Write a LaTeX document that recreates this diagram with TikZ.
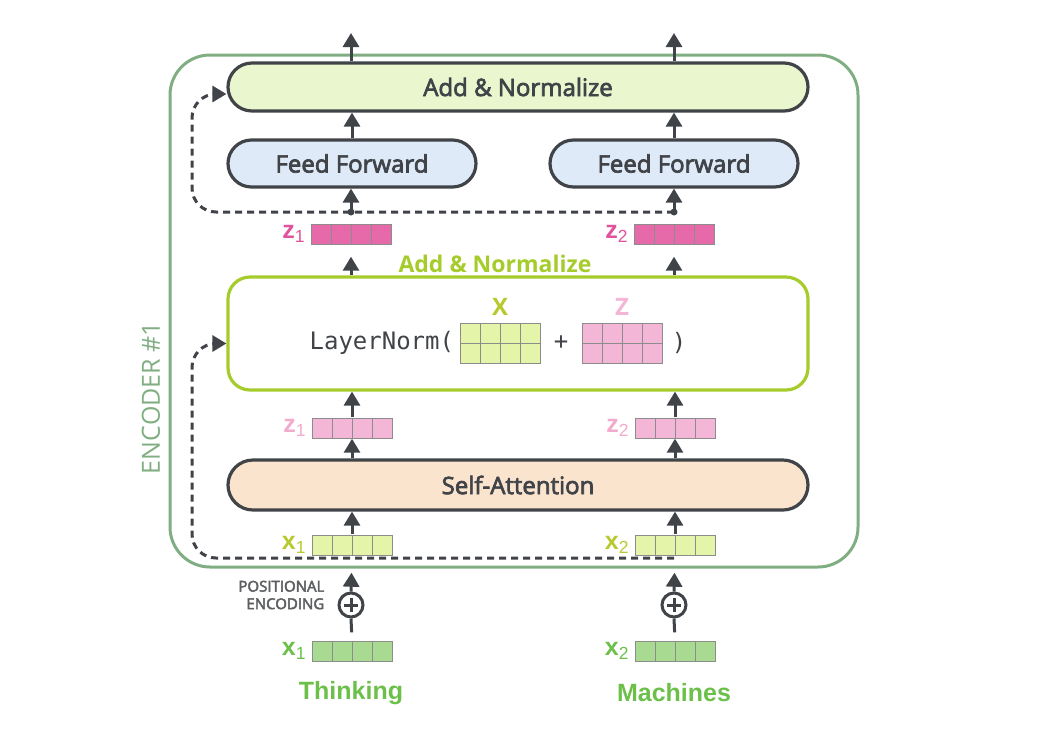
\documentclass[tikz,border=0pt]{standalone}
\usepackage{fontspec}
\setmainfont{Open Sans}
\setmonofont{DejaVu Sans Mono}
\newfontfamily\wordfont{Liberation Sans}
\newfontfamily\medfont{Open Sans}[FakeBold=3]
\usetikzlibrary{matrix, positioning, calc, shapes.misc, arrows.meta}

\definecolor{edgegray}{HTML}{404348}
\definecolor{encgreen}{HTML}{80AE82}
\definecolor{normfill}{HTML}{E9F6CE}
\definecolor{fffill}{HTML}{DEEAF7}
\definecolor{safill}{HTML}{FBE4CE}
\definecolor{lnline}{HTML}{A6CC2C}
\definecolor{cellgray}{HTML}{8C8C8C}
\definecolor{xin}{HTML}{A8DB91}
\definecolor{xinlabel}{HTML}{6CC04A}
\definecolor{xpos}{HTML}{E4F4A9}
\definecolor{xposlabel}{HTML}{B8C92E}
\definecolor{zlight}{HTML}{F3B6D6}
\definecolor{zlightlabel}{HTML}{F2AACD}
\definecolor{zdark}{HTML}{E66AAA}
\definecolor{zdarklabel}{HTML}{E0529B}

\begin{document}
\begin{tikzpicture}[
		x=1pt, y=-1pt,
		% Rounded boxes for the sub-layers
		layer/.style={rounded rectangle, draw=edgegray, line width=3.2pt, minimum height=48pt, inner sep=0pt, text=edgegray, font=\medfont\fontsize{24}{28}\selectfont},
		% Word vectors drawn as small matrices of empty cells
		vecmtx/.style={
			matrix of nodes, nodes in empty cells, inner sep=0pt,
			nodes={draw=cellgray, line width=1pt, minimum size=20pt, inner sep=0pt, anchor=center},
			column sep=-1pt, row sep=-1pt,
			ampersand replacement=\&
		},
		vec label/.style={font=\wordfont\bfseries\fontsize{25}{25}\selectfont, inner sep=0pt},
		% Adder for the positional encoding
		sum/.style={circle, draw=edgegray, line width=3pt, minimum size=24pt, inner sep=0pt,
			path picture={\draw[edgegray, line width=3pt]
				([yshift=7pt]path picture bounding box.center) -- ([yshift=-7pt]path picture bounding box.center)
				([xshift=-7pt]path picture bounding box.center) -- ([xshift=7pt]path picture bounding box.center);}},
		% Connector styles
		flow/.style={-{Triangle[width=16pt, length=14pt]}, line width=3pt, edgegray},
		wire/.style={line width=3pt, edgegray},
		resid/.style={flow, dash pattern=on 7pt off 5pt, rounded corners=24pt},
		mono/.style={font=\ttfamily\fontsize{24}{26}\selectfont, text=edgegray, inner sep=0pt},
		word/.style={text=xinlabel, font=\wordfont\bfseries\fontsize{25}{28}\selectfont},
		mat label/.style={font=\bfseries\fontsize{24}{26}\selectfont, inner sep=0pt}
		]
		\useasboundingbox (0,0) rectangle (1052,740);
		
		% ==============================================================================
		% 1. ENCODER FRAME
		% ==============================================================================
		\node[draw=encgreen, line width=3pt, rounded corners=40pt, minimum width=688pt, minimum height=512pt] (enc) at (514,311) {};
		\node[rotate=90, text=encgreen, font=\fontsize{25}{28}\selectfont] (enclabel) at (151,398) {ENCODER \#1};
		
		% ==============================================================================
		% 2. SUB-LAYERS
		% ==============================================================================
		\node[layer, fill=normfill, minimum width=580pt] (an2) at (518,87) {Add \& Normalize};
		\node[layer, fill=fffill, minimum width=248pt, minimum height=47pt] (ff1) at (352,163.5) {Feed Forward};
		\node[layer, fill=fffill, minimum width=248pt, minimum height=47pt] (ff2) at (674,163.5) {Feed Forward};
		\node[draw=lnline, line width=3.2pt, rounded corners=22pt, minimum width=580pt, minimum height=113pt] (ln) at (518,333.5) {};
		\node[text=lnline, font=\bfseries\fontsize{23}{28}\selectfont] (lnlabel) at (495,264) {Add \& Normalize};
		\node[layer, fill=safill, minimum width=580pt, minimum height=50pt] (sa) at (518,485) {Self-Attention};
		
		% ==============================================================================
		% 3. LAYERNORM FORMULA
		% ==============================================================================
		\matrix[vecmtx, nodes={fill=xpos}] (Xm) at (500,343) {
			\& \& \& \\
			\& \& \& \\
		};
		\matrix[vecmtx, nodes={fill=zlight}] (Zm) at (622,343) {
			\& \& \& \\
			\& \& \& \\
		};
		\node[mono, left=5pt of Xm] (lntext) {LayerNorm(};
		\node[mono] (plus) at ($(Xm.east)!0.5!(Zm.west)$) {+};
		\node[mono, right=9pt of Zm] (close) {)};
		\node[mat label, above=7pt of Xm, text=xposlabel] (Xlabel) {X};
		\node[mat label, above=7pt of Zm, text=zlight] (Zlabel) {Z};
		
		% ==============================================================================
		% 4. WORD VECTORS
		% ==============================================================================
		\matrix[vecmtx, nodes={fill=zdark}] (z1) at (351,234) { \& \& \& \\ };
		\matrix[vecmtx, nodes={fill=zdark}] (z2) at (674,234) { \& \& \& \\ };
		\matrix[vecmtx, nodes={fill=zlight}] (za1) at (352,428) { \& \& \& \\ };
		\matrix[vecmtx, nodes={fill=zlight}] (za2) at (675,428) { \& \& \& \\ };
		\matrix[vecmtx, nodes={fill=xpos}] (x1) at (352,545) { \& \& \& \\ };
		\matrix[vecmtx, nodes={fill=xpos}] (x2) at (675,545) { \& \& \& \\ };
		\matrix[vecmtx, nodes={fill=xin}] (xin1) at (352,651) { \& \& \& \\ };
		\matrix[vecmtx, nodes={fill=xin}] (xin2) at (675,651) { \& \& \& \\ };
		
		\node[vec label, text=zdarklabel, left=5pt of z1] (z1label) {z{\mdseries\textsubscript{1}}};
		\node[vec label, text=zdarklabel, left=5pt of z2] (z2label) {z{\mdseries\textsubscript{2}}};
		\node[vec label, text=zlightlabel, left=5pt of za1] (za1label) {z{\mdseries\textsubscript{1}}};
		\node[vec label, text=zlightlabel, left=5pt of za2] (za2label) {z{\mdseries\textsubscript{2}}};
		\node[vec label, text=xposlabel, left=5pt of x1] (x1label) {x{\mdseries\textsubscript{1}}};
		\node[vec label, text=xposlabel, left=5pt of x2] (x2label) {x{\mdseries\textsubscript{2}}};
		\node[vec label, text=xinlabel, left=5pt of xin1] (xin1label) {x{\mdseries\textsubscript{1}}};
		\node[vec label, text=xinlabel, left=5pt of xin2] (xin2label) {x{\mdseries\textsubscript{2}}};
		
		% ==============================================================================
		% 5. INPUT WORDS & POSITIONAL ENCODING
		% ==============================================================================
		\node[word] (w1) at (351,693) {Thinking};
		\node[word] (w2) at (674,693) {Machines};
		\node[sum] (pe1) at (351,605) {};
		\node[sum] (pe2) at (674,605) {};
		\node[left=13pt of pe1, yshift=10pt, align=right, text=edgegray!85, font=\medfont\fontsize{15}{17.5}\selectfont, inner sep=0pt] (pelabel) {POSITIONAL\\ENCODING};
		
		% ==============================================================================
		% 6. ARROWS AND RESIDUAL CONNECTIONS
		% ==============================================================================
		\coordinate (out1) at (351,33);
		\coordinate (out2) at (674,33);
		\coordinate (j1) at (351,212);
		\coordinate (j2) at (674,212);
		\coordinate (j4) at (674,558);
		\coordinate (lane) at (192,0);
		\coordinate (an2in) at ([yshift=-7pt]an2.west);
		\coordinate (lnin) at ([yshift=-10pt]ln.west);
		
		\foreach \i/\out in {1/out1, 2/out2} {
			\draw[wire, shorten <=8pt] (xin\i.north) -- (pe\i.south);
			\draw[flow, shorten >=17pt] (pe\i.north) -- (x\i.south);
			\draw[flow] (x\i.north) -- (x\i.north |- sa.south);
			\draw[flow] (sa.north -| za\i) -- (za\i.south);
			\draw[flow] (za\i.north) -- (za\i.north |- ln.south);
			\draw[flow, shorten >=12pt] (ln.north -| z\i) -- (z\i.south);
			\draw[flow] (j\i) -- (j\i |- ff\i.south);
			\draw[flow] (ff\i.north) -- (ff\i.north |- an2.south);
			\draw[flow] (an2.north -| \out) -- (\out);
			\fill[edgegray] (j\i) circle (3.5pt);
		}
		
		\draw[resid] (j2) -- (lane |- j2) -- (lane |- an2in) -- (an2in);
		\draw[resid] (j4) -- (lane |- j4) -- (lane |- lnin) -- (lnin);
	\end{tikzpicture}
\end{document}
